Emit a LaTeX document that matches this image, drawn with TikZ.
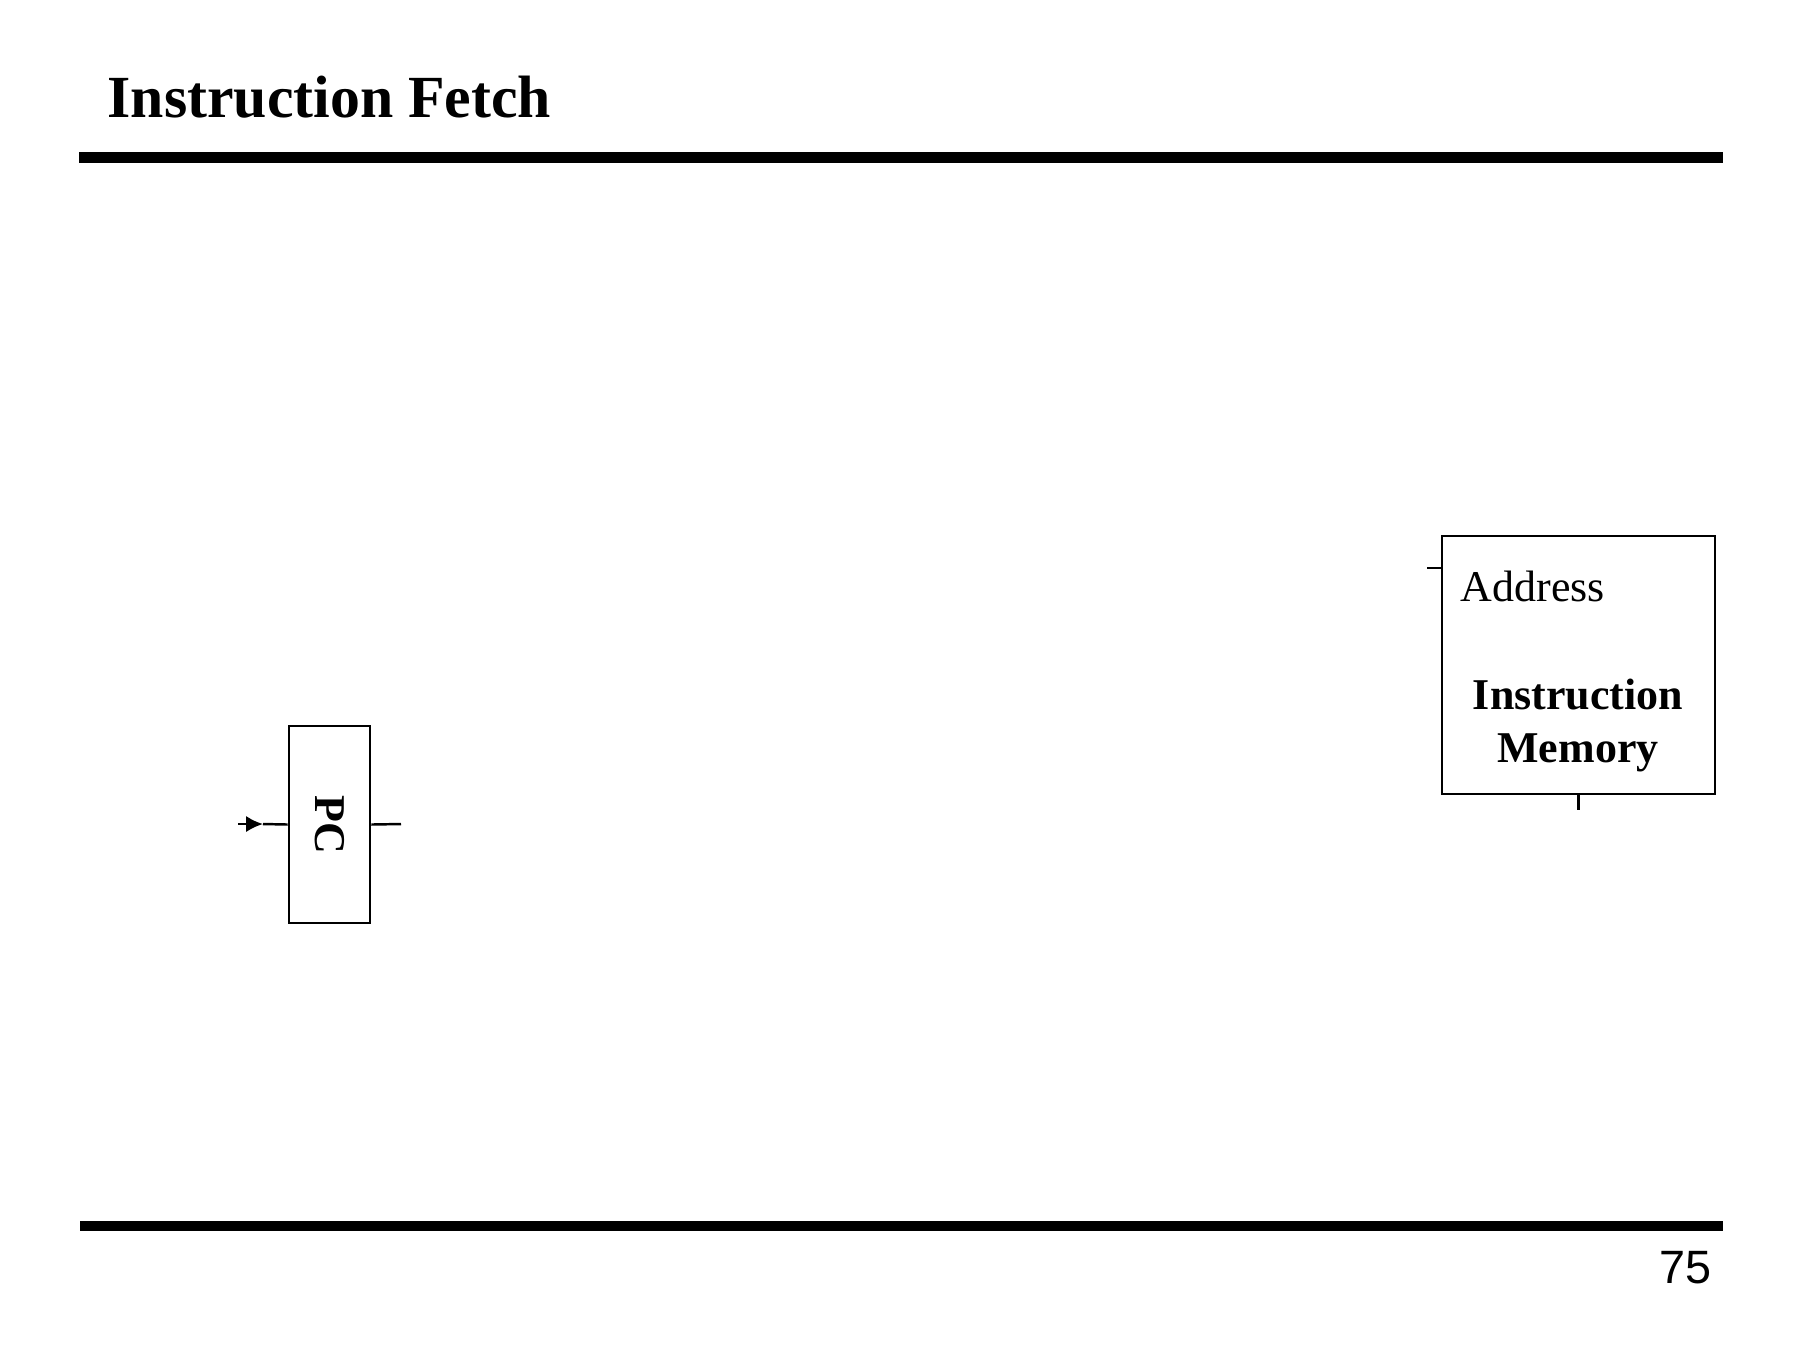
\documentclass[tikz,border=0pt]{standalone}
\usepackage{fontspec}
\usepackage{graphicx}
\setmainfont{Liberation Serif}
\newfontfamily\pagefont{Liberation Sans}
\usetikzlibrary{arrows.meta}

\tikzset{
  block/.style={draw, line width=0.75pt, inner sep=0pt},
  wire/.style={line width=0.7pt},
  rule/.style={line width=2.9pt},
}

\begin{document}
\begin{tikzpicture}[x=0.01cm, y=-0.01cm]
    \useasboundingbox (0,0) rectangle (1800,1350);

    % Title and rules
    \node [anchor=base west, inner sep=0pt, font=\fontsize{17}{20}\selectfont\bfseries] (title) at (107,117) {Instruction Fetch};
    \draw [rule] (79,157.5) -- (1723,157.5);
    \draw [rule] (80,1226) -- (1723,1226);
    \node [anchor=base east, inner sep=0pt, font=\fontsize{13.3}{15}\pagefont] (page) at (1712,1283) {75};

    % PC register
    \node [block, minimum width=0.81cm, minimum height=1.97cm] (pc) at (329.5,824.5) {};
    \node [font=\fontsize{12.5}{15}\selectfont\bfseries] (pclabel) at (pc.center) {\rotatebox{-90}{PC}};
    \coordinate (pcin) at (238,824);
    \coordinate (pctip) at (263,824);
    \coordinate (pcout) at (401,824);

    % Instruction memory
    \node [block, minimum width=2.73cm, minimum height=2.58cm] (imem) at (1578.5,665) {};
    \node [anchor=base west, inner sep=0pt, font=\fontsize{12.5}{15}\selectfont] (addr) at (1460,601) {Address};
    \node [anchor=base, inner sep=0pt, font=\fontsize{12.5}{15}\selectfont\bfseries] (imtop) at (1578,709) {Instruction};
    \node [anchor=base, inner sep=0pt, font=\fontsize{12.5}{15}\selectfont\bfseries] (imbot) at (1578,762) {Memory};
    \coordinate (addrin) at (1427,568);
    \coordinate (imout) at (1578.5,810);

    % Draw the wires
    \draw [wire, -{Latex[length=4.8pt,width=4.6pt]}] (pcin) -- (pctip);
    \draw [wire] (pctip) -- (pc.west);
    \draw [wire] (pc.east) -- (pcout);
    \draw [wire] (addrin) -- (addrin -| imem.west);
    \draw [wire] (imem.south) -- (imout);

\end{tikzpicture}
\end{document}
